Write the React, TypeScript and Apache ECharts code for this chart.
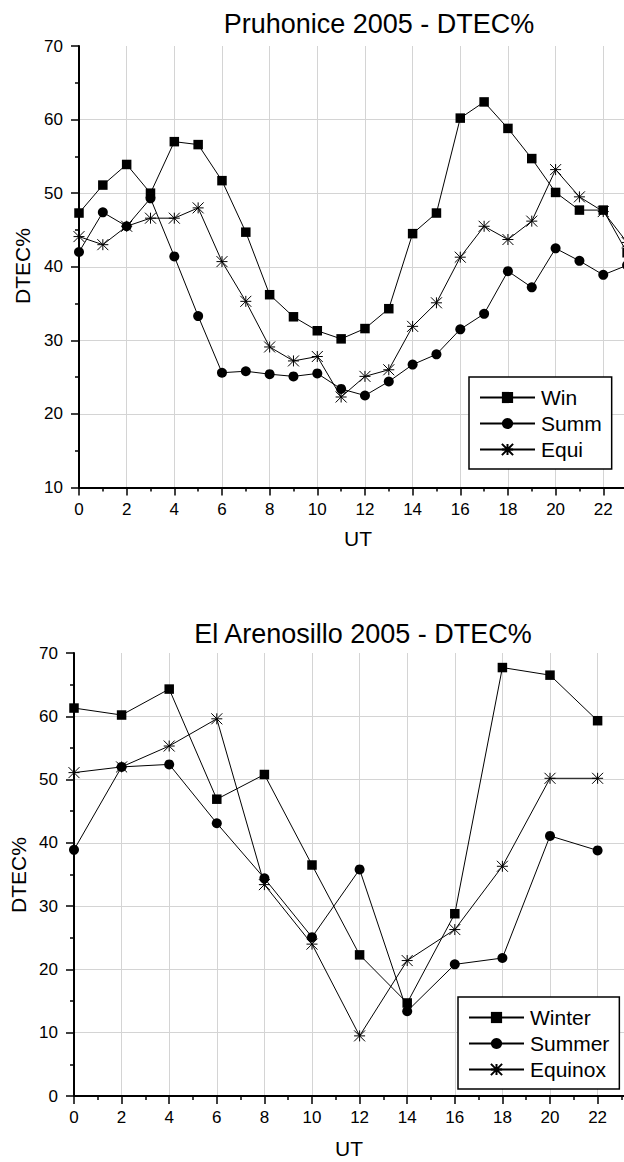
import React, { useEffect, useRef } from 'react';
import * as echarts from 'echarts';

// ---- Data: Pruhonice 2005 ----
const topUT = [0, 1, 2, 3, 4, 5, 6, 7, 8, 9, 10, 11, 12, 13, 14, 15, 16, 17, 18, 19, 20, 21, 22, 23];
const topWin = [47.3, 51.1, 53.9, 50.0, 57.0, 56.6, 51.7, 44.7, 36.2, 33.2, 31.3, 30.2, 31.6, 34.3, 44.5, 47.3, 60.2, 62.4, 58.8, 54.7, 50.1, 47.7, 47.7, 41.9];
const topSumm = [42.0, 47.4, 45.5, 49.3, 41.4, 33.3, 25.6, 25.8, 25.4, 25.1, 25.5, 23.4, 22.5, 24.4, 26.7, 28.1, 31.5, 33.6, 39.4, 37.2, 42.5, 40.8, 38.9, 40.2];
const topEqui = [44.1, 43.0, 45.5, 46.6, 46.6, 48.0, 40.7, 35.3, 29.1, 27.2, 27.8, 22.3, 25.1, 26.0, 31.9, 35.1, 41.3, 45.5, 43.7, 46.2, 53.2, 49.5, 47.5, 43.3];

// ---- Data: El Arenosillo 2005 ----
const botUT = [0, 2, 4, 6, 8, 10, 12, 14, 16, 18, 20, 22];
const botWinter = [61.3, 60.2, 64.3, 46.9, 50.8, 36.5, 22.3, 14.7, 28.8, 67.7, 66.5, 59.3];
const botSummer = [38.9, 52.0, 52.4, 43.1, 34.4, 25.1, 35.8, 13.4, 20.8, 21.8, 41.1, 38.8];
const botEquinox = [51.1, 52.0, 55.3, 59.6, 33.4, 24.0, 9.5, 21.4, 26.3, 36.3, 50.2, 50.2];

const topTitle = 'Pruhonice 2005 - DTEC%';
const botTitle = 'El Arenosillo 2005 - DTEC%';
const xName = 'UT';
const yName = 'DTEC%';
const topNames = ['Win', 'Summ', 'Equi'];
const botNames = ['Winter', 'Summer', 'Equinox'];

const FONT = '"Liberation Sans", Arial, Helvetica, sans-serif';
const STAR = 'path://M5 0 L5 10 M0 0 L10 10 M0 10 L10 0 M0 5 L10 5';

function xAxisDef(gridIndex: number) {
  return {
    gridIndex,
    type: 'value',
    min: 0,
    max: 24,
    interval: 2,
    axisLine: { show: true, onZero: false, lineStyle: { color: '#000', width: 2 } },
    axisTick: { show: true, length: 8, lineStyle: { color: '#000', width: 1.5 } },
    minorTick: { show: true, splitNumber: 2, length: 4, lineStyle: { color: '#000', width: 1.5 } },
    axisLabel: {
      show: true,
      fontSize: 17,
      color: '#000',
      fontFamily: FONT,
      margin: 13,
      formatter: (v: number) => (v <= 22 ? String(v) : ''),
    },
    splitLine: { show: true, lineStyle: { color: '#d4d4d4', width: 1 } },
  };
}

function yAxisDef(gridIndex: number, min: number) {
  return {
    gridIndex,
    type: 'value',
    min,
    max: 70,
    interval: 10,
    axisLine: { show: true, onZero: false, lineStyle: { color: '#000', width: 2 } },
    axisTick: { show: true, length: 8, lineStyle: { color: '#000', width: 1.5 } },
    minorTick: { show: true, splitNumber: 2, length: 4, lineStyle: { color: '#000', width: 1.5 } },
    axisLabel: { show: true, fontSize: 17, color: '#000', fontFamily: FONT, margin: 16 },
    splitLine: { show: true, showMaxLine: false, lineStyle: { color: '#d4d4d4', width: 1 } },
  };
}

function lineSeries(name: string, xs: number[], ys: number[], idx: number, kind: 'sq' | 'ci' | 'st') {
  const symbol = kind === 'sq' ? 'rect' : kind === 'ci' ? 'circle' : STAR;
  const size = kind === 'sq' ? 9.5 : kind === 'ci' ? 10 : 11;
  return {
    type: 'line',
    name,
    xAxisIndex: idx,
    yAxisIndex: idx,
    data: xs.map((x, i) => [x, ys[i]]),
    symbol,
    symbolSize: size,
    showAllSymbol: true,
    lineStyle: { color: '#000', width: 1 },
    itemStyle: { color: '#000', borderColor: '#000', borderWidth: kind === 'st' ? 1 : 0 },
    emphasis: { disabled: true },
    z: 3,
  };
}

function legendDef(names: string[], left: number, top: number) {
  return {
    data: names,
    orient: 'vertical',
    left,
    top,
    itemWidth: 55,
    itemHeight: 14,
    itemGap: 5,
    padding: [10, 10, 9, 10],
    borderColor: '#000',
    borderWidth: 1.5,
    backgroundColor: '#fff',
    selectedMode: false,
    textStyle: { fontSize: 21, color: '#000', fontFamily: FONT, padding: [0, 0, 0, 1] },
    z: 10,
  };
}

export default function App() {
  const ref = useRef<HTMLDivElement>(null);
  useEffect(() => {
    if (!ref.current) return;
    const chart = echarts.init(ref.current, undefined, { renderer: 'svg' });
    const option = {
      animation: false,
      backgroundColor: '#fff',
      grid: [
        { left: 79, top: 46, width: 24 * 23.83, height: 441.5 },
        { left: 74, top: 653, width: 24 * 23.8, height: 443 },
      ],
      xAxis: [xAxisDef(0), xAxisDef(1)],
      yAxis: [yAxisDef(0, 10), yAxisDef(1, 0)],
      legend: [legendDef(topNames, 469, 377), legendDef(botNames, 458, 997)],
      series: [
        lineSeries(topNames[0], topUT, topWin, 0, 'sq'),
        lineSeries(topNames[1], topUT, topSumm, 0, 'ci'),
        lineSeries(topNames[2], topUT, topEqui, 0, 'st'),
        lineSeries(botNames[0], botUT, botWinter, 1, 'sq'),
        lineSeries(botNames[1], botUT, botSummer, 1, 'ci'),
        lineSeries(botNames[2], botUT, botEquinox, 1, 'st'),
      ],
      graphic: [
        { type: 'text', x: 379, y: 23.5, style: { text: topTitle, fontSize: 27, fontFamily: FONT, fill: '#000', align: 'center', verticalAlign: 'middle' } },
        { type: 'text', x: 363, y: 634, style: { text: botTitle, fontSize: 27, fontFamily: FONT, fill: '#000', align: 'center', verticalAlign: 'middle' } },
        { type: 'text', x: 358, y: 538, style: { text: xName, fontSize: 21, fontFamily: FONT, fill: '#000', align: 'center', verticalAlign: 'middle' } },
        { type: 'text', x: 349, y: 1148, style: { text: xName, fontSize: 21, fontFamily: FONT, fill: '#000', align: 'center', verticalAlign: 'middle' } },
        { type: 'text', x: 22, y: 266, rotation: Math.PI / 2, style: { text: yName, fontSize: 21, fontFamily: FONT, fill: '#000', align: 'center', verticalAlign: 'middle' } },
        { type: 'text', x: 18, y: 875, rotation: Math.PI / 2, style: { text: yName, fontSize: 21, fontFamily: FONT, fill: '#000', align: 'center', verticalAlign: 'middle' } },
      ],
    };
    chart.setOption(option as any);
    return () => chart.dispose();
  }, []);
  return (
    <div style={{ position: 'fixed', left: 0, top: 0, width: 624, height: 1162, overflow: 'hidden', background: '#fff' }}>
      <div ref={ref} style={{ width: 690, height: 1162 }} />
    </div>
  );
}
